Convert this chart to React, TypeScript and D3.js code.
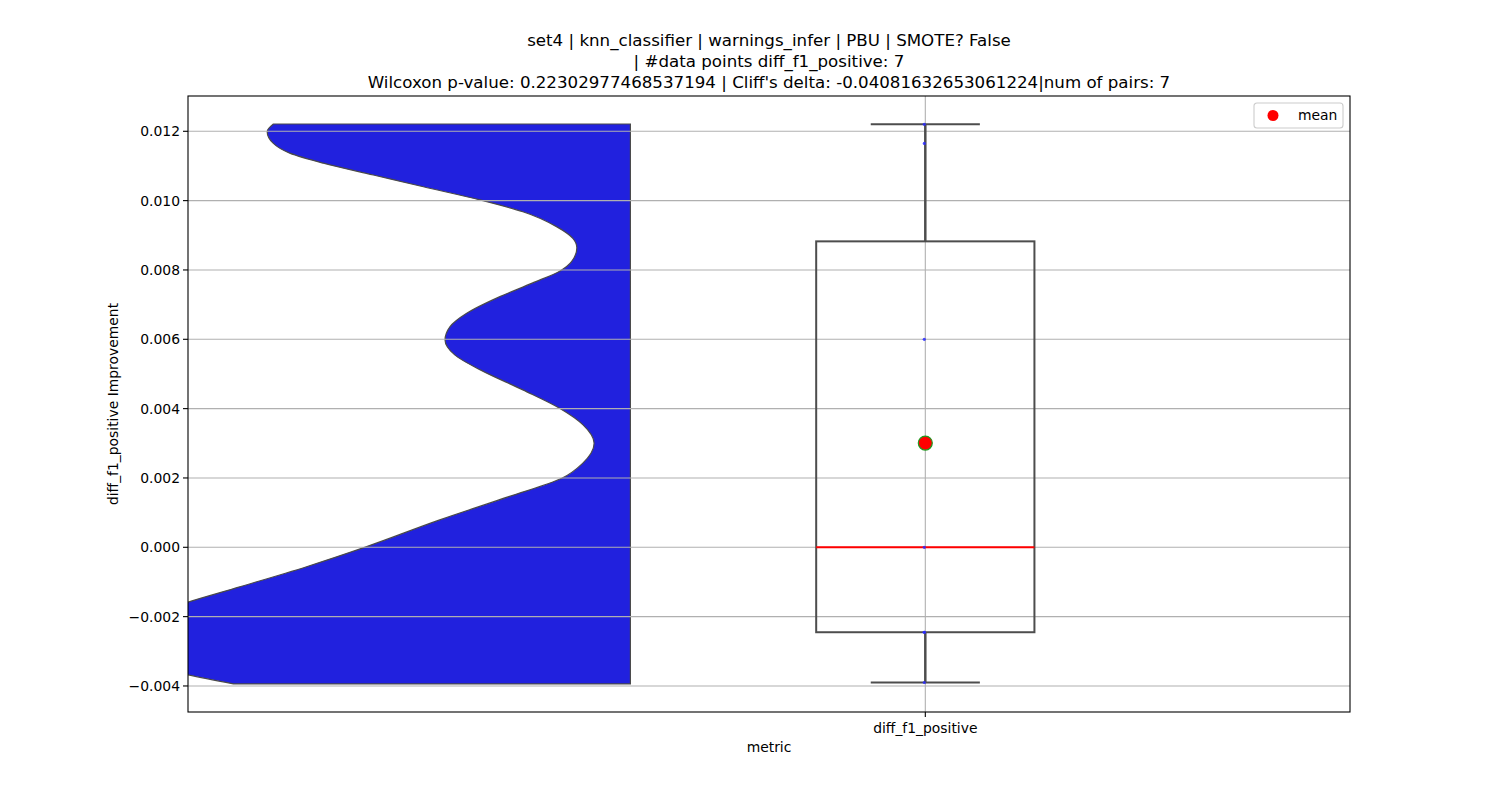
import React from 'react';
import * as d3 from 'd3';

// categories on the x axis
const categories = ['diff_f1_positive'];

const diffValues = [-0.0039, -0.00245, -0.00245, 0.0, 0.006, 0.01165, 0.0122];

// half-violin outline: levels (y) and relative density (width)
const violinLevels = [
  0.01221, 0.01199, 0.01165, 0.01137, 0.01108, 0.01074, 0.0104, 0.01002, 0.00968, 0.00925,
  0.00891, 0.00864, 0.00824, 0.00798, 0.00762, 0.00723, 0.00675, 0.00636, 0.00598, 0.00555,
  0.00511, 0.00454, 0.00401, 0.00353, 0.003, 0.00242, 0.00199, 0.00146, 0.00079, 0.00002,
  -0.00056, -0.00114, -0.00158, -0.0021, -0.0028, -0.0033, -0.00368, -0.00394
];
const violinDensity = [
  0.807, 0.821, 0.807, 0.77, 0.694, 0.581, 0.468, 0.34, 0.243, 0.167,
  0.13, 0.121, 0.133, 0.158, 0.222, 0.295, 0.37, 0.408, 0.419, 0.397,
  0.338, 0.243, 0.16, 0.107, 0.082, 0.108, 0.155, 0.275, 0.431, 0.596,
  0.732, 0.883, 1.0, 1.12, 1.19, 1.13, 1.0, 0.897
];

const yTicks = [-0.004, -0.002, 0, 0.002, 0.004, 0.006, 0.008, 0.01, 0.012];

const titleLines = [
  'set4 | knn_classifier | warnings_infer | PBU | SMOTE? False',
  '| #data points diff_f1_positive: 7',
  "Wilcoxon p-value: 0.22302977468537194 | Cliff's delta: -0.04081632653061224|num of pairs: 7"
];

const FONT = 'DejaVu Sans, sans-serif';

export default function App() {
  const width = 1500;
  const height = 800;
  const margin = { top: 96, right: 150, bottom: 88, left: 188 };
  const innerWidth = width - margin.left - margin.right;
  const innerHeight = height - margin.top - margin.bottom;

  const yScale = d3.scaleLinear().domain([-0.004751, 0.013018]).range([innerHeight, 0]);
  const xScale = d3.scaleLinear().domain([-1.25, 0.72]).range([0, innerWidth]);

  const catX = (c) => xScale(categories.indexOf(c));
  const violinCenter = xScale(-0.5);
  const densityScale = d3.scaleLinear().domain([0, 1]).range([0, xScale(-0.5) - xScale(-1.25)]);

  const sorted = [...diffValues].sort((a, b) => a - b);
  const q1 = d3.quantile(sorted, 0.25);
  const med = d3.quantile(sorted, 0.5);
  const q3 = d3.quantile(sorted, 0.75);
  const mean = d3.mean(sorted);
  const iqr = q3 - q1;
  const whiskLo = d3.min(sorted.filter(v => v >= q1 - 1.5 * iqr));
  const whiskHi = d3.max(sorted.filter(v => v <= q3 + 1.5 * iqr));

  const violinData = violinLevels.map((v, i) => ({ v, d: violinDensity[i] }));
  const violinArea = d3.area()
    .y(d => yScale(d.v))
    .x0(violinCenter)
    .x1(d => violinCenter - densityScale(d.d))
    .curve(d3.curveMonotoneY);

  const cx = catX(categories[0]);
  const boxHalf = xScale(0.185) - xScale(0);
  const capHalf = boxHalf / 2;
  const fmt = d3.format('.3f');
  const boxColor = '#4d4d4d';

  return (
    <svg width={width} height={height} style={{ position: 'absolute', left: 0, top: 0, background: '#fff' }}
      fontFamily={FONT}>
      <defs>
        <clipPath id="plotClip">
          <rect x={0} y={0} width={innerWidth} height={innerHeight} />
        </clipPath>
      </defs>

      {/* title */}
      {titleLines.map((t, i) => (
        <text key={i} x={margin.left + innerWidth / 2} y={46 + i * 21} textAnchor="middle" fontSize={16.67} fill="#000">
          {t}
        </text>
      ))}

      <g transform={`translate(${margin.left},${margin.top})`}>
        {/* violin */}
        <g clipPath="url(#plotClip)">
          <path d={violinArea(violinData)} fill="#2121de" stroke="#4a4a4a" strokeWidth={1.2} />
        </g>

        {/* grid */}
        {yTicks.map(t => (
          <line key={t} x1={0} x2={innerWidth} y1={yScale(t)} y2={yScale(t)} stroke="#b0b0b0" strokeWidth={1.1} />
        ))}
        {categories.map(c => (
          <line key={c} x1={catX(c)} x2={catX(c)} y1={0} y2={innerHeight} stroke="#b0b0b0" strokeWidth={1.1} />
        ))}

        {/* box */}
        <rect x={cx - boxHalf} y={yScale(q3)} width={boxHalf * 2} height={yScale(q1) - yScale(q3)}
          fill="none" stroke={boxColor} strokeWidth={2} />
        <line x1={cx} x2={cx} y1={yScale(q3)} y2={yScale(whiskHi)} stroke={boxColor} strokeWidth={2.5} />
        <line x1={cx} x2={cx} y1={yScale(q1)} y2={yScale(whiskLo)} stroke={boxColor} strokeWidth={2.5} />
        <line x1={cx - capHalf} x2={cx + capHalf} y1={yScale(whiskHi)} y2={yScale(whiskHi)} stroke={boxColor} strokeWidth={2} />
        <line x1={cx - capHalf} x2={cx + capHalf} y1={yScale(whiskLo)} y2={yScale(whiskLo)} stroke={boxColor} strokeWidth={2} />
        <line x1={cx - boxHalf} x2={cx + boxHalf} y1={yScale(med)} y2={yScale(med)} stroke="#ff0000" strokeWidth={2} />

        {/* strip points */}
        {diffValues.map((v, i) => (
          <circle key={i} cx={cx - 1} cy={yScale(v)} r={1.6} fill="#2a2aff" opacity={0.85} />
        ))}

        {/* mean */}
        <circle cx={cx} cy={yScale(mean)} r={7} fill="#ff0000" stroke="#1f9a1f" strokeWidth={1.2} />

        {/* frame */}
        <rect x={0} y={0} width={innerWidth} height={innerHeight} fill="none" stroke="#000" strokeWidth={1.1} />

        {/* y axis */}
        {yTicks.map(t => (
          <g key={t} transform={`translate(0,${yScale(t)})`}>
            <line x1={-5} x2={0} stroke="#000" strokeWidth={1.1} />
            <text x={-8} dy="0.35em" textAnchor="end" fontSize={13.9} fill="#000">
              {fmt(t).replace('-', '\u2212')}
            </text>
          </g>
        ))}
        <text transform={`translate(${-70},${innerHeight / 2}) rotate(-90)`} textAnchor="middle" fontSize={13.9} fill="#000">
          diff_f1_positive Improvement
        </text>

        {/* x axis */}
        {categories.map(c => (
          <g key={c} transform={`translate(${catX(c)},${innerHeight})`}>
            <line y1={0} y2={5} stroke="#000" strokeWidth={1.1} />
            <text y={21} textAnchor="middle" fontSize={13.9} fill="#000">{c}</text>
          </g>
        ))}
        <text x={innerWidth / 2} y={innerHeight + 40} textAnchor="middle" fontSize={13.9} fill="#000">metric</text>

        {/* legend */}
        <g transform={`translate(${innerWidth - 96},7)`}>
          <rect x={0} y={0} width={89} height={25} rx={3} fill="#fff" fillOpacity={0.8} stroke="#cccccc" strokeWidth={1.1} />
          <circle cx={19} cy={12.5} r={5.5} fill="#ff0000" />
          <text x={44} y={12.5} dy="0.35em" fontSize={13.9} fill="#000">mean</text>
        </g>
      </g>
    </svg>
  );
}
